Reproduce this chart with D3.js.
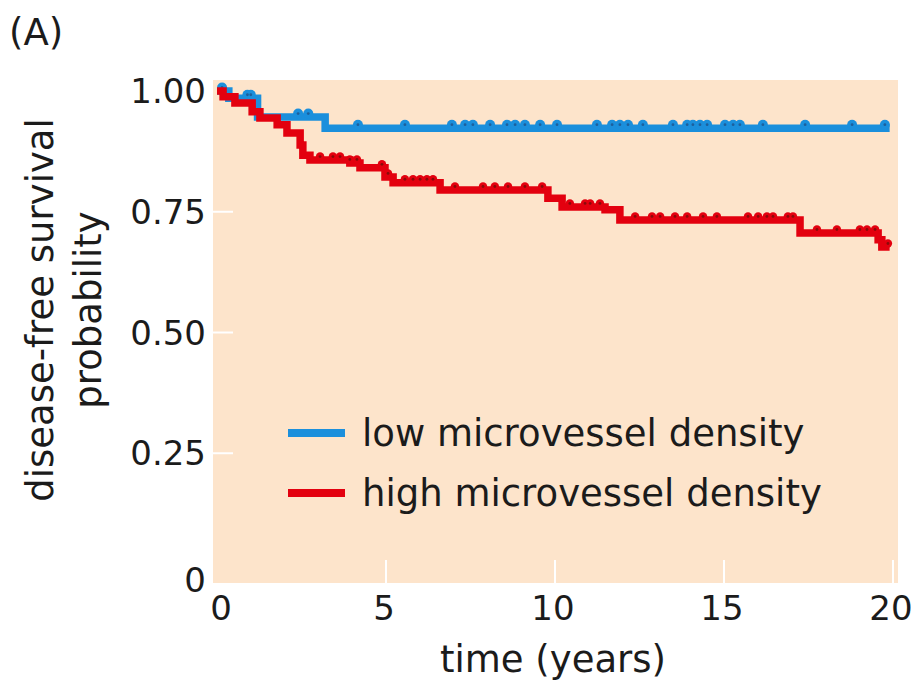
<!DOCTYPE html>
<html>
<head>
<meta charset="utf-8">
<script src="https://cdn.jsdelivr.net/npm/d3@7"></script>
<style>
  body { margin: 0; background: #fff; }
  text { font-family: "DejaVu Sans", sans-serif; fill: #1b1b1b; }
</style>
</head>
<body>
<svg width="915" height="688"></svg>
<script>
// Kaplan-Meier steps (time in years, survival probability)
const lowTimes = [0, 0.35, 1.2, 3.2];
const lowSurv  = [1.0, 0.985, 0.946, 0.923];
const lowCensor = [0.15, 0.9, 1.0, 2.4, 2.7, 4.17, 5.56, 6.95, 7.34, 7.57, 8.08, 8.58, 8.82, 9.11, 9.56,
    10.06, 11.24, 11.69, 11.92, 12.16, 12.6, 13.49, 13.91, 14.08, 14.29, 14.5, 15.03, 15.27, 15.47,
    16.15, 17.4, 18.79, 19.76];

const highTimes = [0, 0.18, 0.53, 1.04, 1.27, 1.78, 2.07, 2.46, 2.54, 2.75, 3.93, 4.23, 4.97, 5.21,
    6.6, 9.79, 10.21, 11.48, 11.92, 17.25, 19.56, 19.67];
const highSurv  = [1.0, 0.988, 0.975, 0.957, 0.944, 0.93, 0.913, 0.888, 0.867, 0.857, 0.851, 0.841,
    0.822, 0.81, 0.795, 0.778, 0.76, 0.754, 0.733, 0.706, 0.692, 0.677];
const highCensor = [3.05, 3.43, 3.64, 3.93, 4.14, 4.88, 5.06, 5.56, 5.8, 6.01, 6.21, 6.39, 7.04, 7.87,
    8.22, 8.61, 9.11, 9.62, 10.44, 10.89, 11.04, 11.33, 12.37, 12.87, 13.11, 13.55, 13.91, 14.38, 14.79,
    15.71, 16.01, 16.27, 16.45, 16.89, 17.04, 17.75, 18.34, 19.02, 19.23, 19.47, 19.85];

const followUpEnd = 19.9;

const xTicks = [0, 5, 10, 15, 20];
const yTicks = [0, 0.25, 0.5, 0.75, 1.0];
const yTickLabels = ["0", "0.25", "0.50", "0.75", "1.00"];

const seriesNames = ["low microvessel density", "high microvessel density"];
const colors = ["#1b8fdc", "#e3000f"];

const svg = d3.select("svg");

const x = d3.scaleLinear().domain([0, 20]).range([217, 893]);
const y = d3.scaleLinear().domain([0, 1]).range([574, 91]);

// peach panel
svg.append("rect")
    .attr("x", 213).attr("y", 80)
    .attr("width", 685).attr("height", 503)
    .attr("fill", "#fde4cb");

// inward white ticks
svg.selectAll(".xtick")
    .data(xTicks.slice(1))
    .join("line")
    .attr("x1", d => x(d)).attr("x2", d => x(d))
    .attr("y1", 583).attr("y2", 560)
    .attr("stroke", "#fff").attr("stroke-width", 2);

svg.selectAll(".ytick")
    .data(yTicks.slice(1, 4))
    .join("line")
    .attr("x1", 213).attr("x2", 233)
    .attr("y1", d => y(d)).attr("y2", d => y(d))
    .attr("stroke", "#fff").attr("stroke-width", 2);

// tick labels
svg.selectAll(".xlab")
    .data(xTicks)
    .join("text")
    .attr("x", d => x(d) + (d === 0 ? 4 : -2))
    .attr("y", 620)
    .attr("text-anchor", "middle")
    .attr("font-size", 34)
    .text(d => d);

svg.selectAll(".ylab")
    .data(yTicks)
    .join("text")
    .attr("x", 206)
    .attr("y", (d, i) => y(d) + (i === 0 ? 18 : 12))
    .attr("text-anchor", "end")
    .attr("font-size", 34)
    .text((d, i) => yTickLabels[i]);

// axis titles
svg.append("text")
    .attr("x", 553).attr("y", 672)
    .attr("text-anchor", "middle")
    .attr("font-size", 37)
    .text("time (years)");

const ytitle = svg.append("text")
    .attr("transform", "translate(0,310) rotate(-90)")
    .attr("text-anchor", "middle")
    .attr("font-size", 37);
ytitle.append("tspan").attr("x", 0).attr("y", 53).text("disease-free survival");
ytitle.append("tspan").attr("x", 0).attr("y", 101).text("probability");

svg.append("text")
    .attr("x", 9).attr("y", 45)
    .attr("font-size", 37)
    .text("(A)");

// survival curves
function steps(times, surv) {
    const pts = times.map((t, i) => [t, surv[i]]);
    pts.push([followUpEnd, surv[surv.length - 1]]);
    return pts;
}

function survAt(times, surv, t) {
    return surv[Math.max(0, d3.bisectRight(times, t) - 1)];
}

const stepLine = d3.line()
    .x(d => x(d[0]))
    .y(d => y(d[1]))
    .curve(d3.curveStepAfter);

const series = [
    { times: lowTimes, surv: lowSurv, censor: lowCensor, color: colors[0], dot: "#1d5f9c", r: 5 },
    { times: highTimes, surv: highSurv, censor: highCensor, color: colors[1], dot: "#8a0a0a", r: 4.2 }
];

series.forEach(s => {
    svg.append("path")
        .attr("d", stepLine(steps(s.times, s.surv)))
        .attr("fill", "none")
        .attr("stroke", s.color)
        .attr("stroke-width", 7.5)
        .attr("stroke-linejoin", "miter");

    const g = svg.append("g");
    g.selectAll("circle.m")
        .data(s.censor)
        .join("circle")
        .attr("cx", d => x(d))
        .attr("cy", d => y(survAt(s.times, s.surv, d)) - 3.5)
        .attr("r", s.r)
        .attr("fill", s.color);
    g.selectAll("circle.c")
        .data(s.censor)
        .join("circle")
        .attr("cx", d => x(d))
        .attr("cy", d => y(survAt(s.times, s.surv, d)) - 3.5)
        .attr("r", 1.4)
        .attr("fill", s.dot);
});

// legend
const legend = svg.selectAll(".legend")
    .data(seriesNames)
    .join("g")
    .attr("transform", (d, i) => `translate(288,${433 + i * 60})`);

legend.append("line")
    .attr("x1", 0).attr("x2", 57)
    .attr("y1", 0).attr("y2", 0)
    .attr("stroke", (d, i) => colors[i])
    .attr("stroke-width", 8);

legend.append("text")
    .attr("x", 74).attr("y", 13)
    .attr("font-size", 37)
    .text(d => d);
</script>
</body>
</html>
